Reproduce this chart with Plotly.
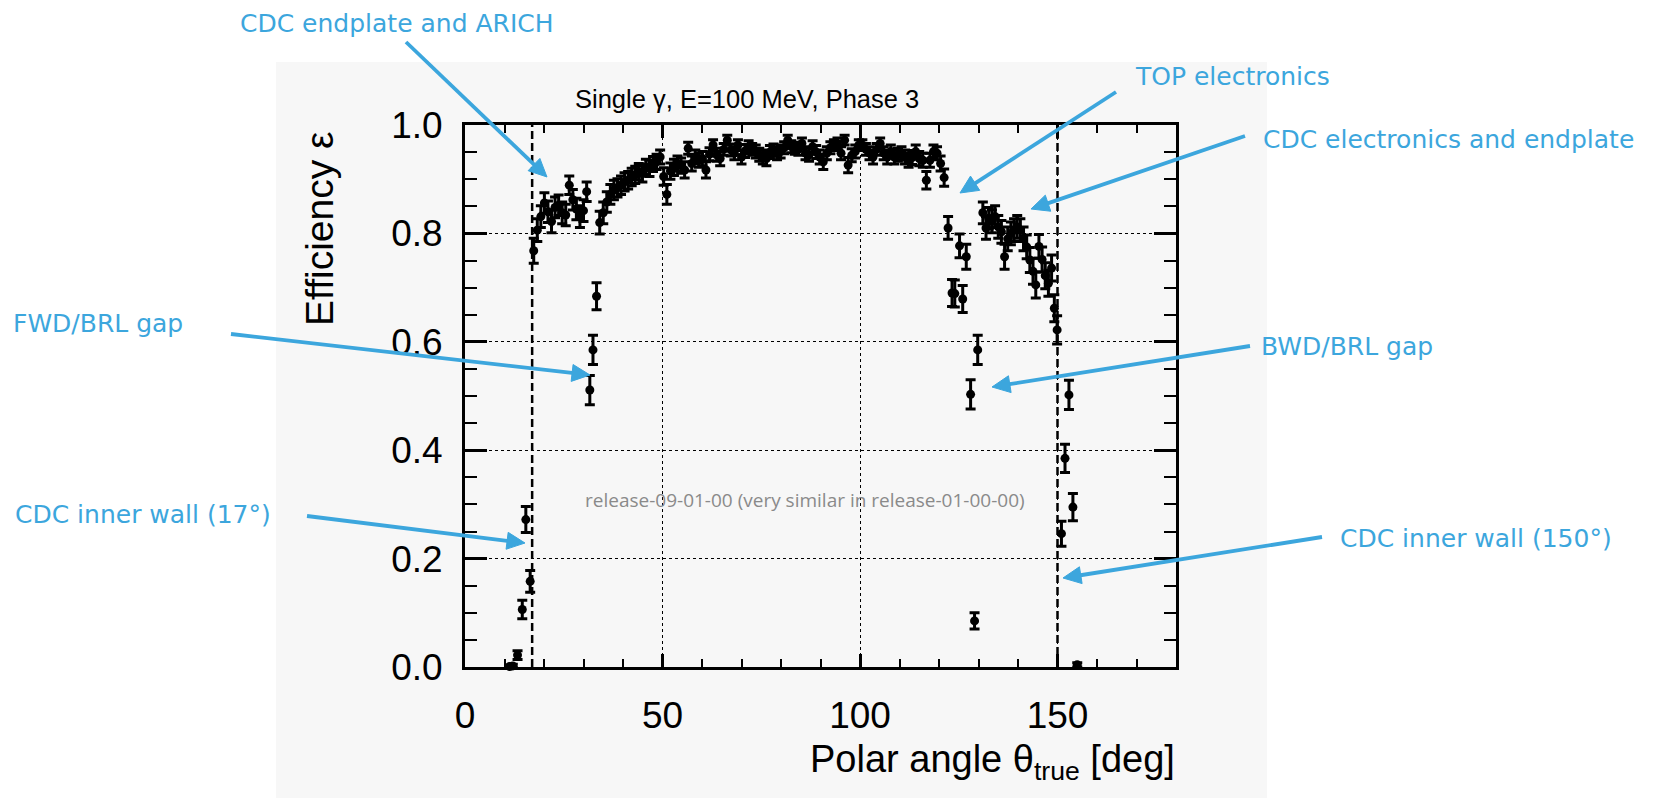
import math
import plotly.graph_objects as go

# Photon reconstruction efficiency versus true polar angle (1 bin ~ 0.9 deg)
theta_deg = [
    11.3, 12.1, 13.3, 14.5, 15.4, 16.5, 17.4, 18.3, 19.2, 20.1, 21.0, 21.9, 22.8, 23.7,
    24.6, 25.5, 26.4, 27.3, 28.2, 29.1, 30.0, 30.8, 31.6, 32.4, 33.3, 34.1, 35.0, 35.9,
    36.8, 37.7, 38.6, 39.5, 40.4, 41.3, 42.2, 43.1, 44.0, 44.9, 45.8, 46.7, 47.6, 48.5,
    49.4, 50.3, 51.1, 52.0, 52.9, 53.8, 54.7, 55.6, 56.5, 57.4, 58.3, 59.2, 60.1, 61.0,
    61.9, 62.8, 63.7, 64.6, 65.5, 66.4, 67.3, 68.2, 69.1, 70.0, 70.9, 71.8, 72.7, 73.6,
    74.5, 75.4, 76.3, 77.2, 78.1, 79.0, 79.9, 80.8, 81.7, 82.6, 83.5, 84.4, 85.3, 86.2,
    87.1, 88.0, 88.9, 89.8, 90.7, 91.6, 92.5, 93.4, 94.3, 95.2, 96.1, 97.0, 97.9, 98.8,
    99.7, 100.6, 101.5, 102.4, 103.3, 104.2, 105.1, 106.0, 106.9, 107.8, 108.7, 109.6,
    110.5, 111.4, 112.3, 113.2, 114.1, 115.0, 115.9, 116.8, 117.7, 118.6, 119.5, 120.4,
    121.3, 122.3, 123.3, 124.0, 125.2, 126.0, 126.9, 128.0, 129.0, 129.8, 131.1, 131.9,
    132.6, 133.4, 134.2, 135.0, 135.8, 136.6, 137.4, 138.2, 139.0, 139.8, 140.6, 141.4,
    142.2, 143.0, 143.8, 144.5, 145.3, 146.1, 146.9, 147.7, 148.5, 149.2, 149.9, 151.0,
    151.9, 152.9, 153.9, 155.0,
]
efficiency = [
    0.001, 0.002, 0.022, 0.106, 0.272, 0.158, 0.768, 0.806, 0.831, 0.856, 0.840, 0.822, 0.848, 0.852,
    0.838, 0.834, 0.889, 0.862, 0.845, 0.831, 0.842, 0.877, 0.511, 0.585, 0.684, 0.820, 0.838, 0.858,
    0.872, 0.880, 0.884, 0.889, 0.895, 0.898, 0.904, 0.908, 0.914, 0.910, 0.923, 0.920, 0.928, 0.932,
    0.941, 0.905, 0.872, 0.915, 0.922, 0.929, 0.925, 0.917, 0.957, 0.929, 0.941, 0.935, 0.938, 0.917,
    0.946, 0.963, 0.945, 0.938, 0.955, 0.972, 0.954, 0.948, 0.963, 0.941, 0.952, 0.960, 0.955, 0.951,
    0.945, 0.941, 0.938, 0.950, 0.954, 0.948, 0.951, 0.958, 0.972, 0.960, 0.957, 0.955, 0.966, 0.948,
    0.945, 0.960, 0.950, 0.941, 0.932, 0.948, 0.958, 0.963, 0.966, 0.948, 0.972, 0.926, 0.944, 0.951,
    0.963, 0.963, 0.955, 0.948, 0.941, 0.955, 0.966, 0.948, 0.941, 0.951, 0.941, 0.945,
    0.948, 0.941, 0.935, 0.940, 0.951, 0.938, 0.935, 0.898, 0.935, 0.951, 0.948, 0.929,
    0.903, 0.810, 0.690, 0.689, 0.777, 0.679, 0.757, 0.503, 0.085, 0.585, 0.838, 0.810,
    0.828, 0.822, 0.831, 0.812, 0.803, 0.757, 0.790, 0.800, 0.806, 0.812, 0.806, 0.790,
    0.775, 0.751, 0.730, 0.705, 0.776, 0.752, 0.722, 0.708, 0.736, 0.662, 0.622, 0.246,
    0.385, 0.502, 0.295, 0.004,
]
efficiency_err = [
    0.002, 0.003, 0.008, 0.017, 0.024, 0.020, 0.023, 0.021, 0.020, 0.019, 0.020, 0.021, 0.019, 0.019,
    0.020, 0.020, 0.017, 0.019, 0.020, 0.020, 0.020, 0.018, 0.027, 0.027, 0.025, 0.021, 0.020, 0.019,
    0.018, 0.018, 0.017, 0.017, 0.017, 0.016, 0.016, 0.016, 0.015, 0.015, 0.014, 0.015, 0.014, 0.014,
    0.013, 0.016, 0.018, 0.015, 0.015, 0.014, 0.014, 0.015, 0.011, 0.014, 0.013, 0.013, 0.013, 0.015,
    0.012, 0.010, 0.012, 0.013, 0.011, 0.009, 0.011, 0.012, 0.010, 0.013, 0.012, 0.011, 0.011, 0.012,
    0.012, 0.013, 0.013, 0.012, 0.011, 0.012, 0.012, 0.011, 0.009, 0.011, 0.011, 0.011, 0.010, 0.012,
    0.012, 0.011, 0.012, 0.013, 0.014, 0.012, 0.011, 0.010, 0.010, 0.012, 0.009, 0.014, 0.012, 0.012,
    0.010, 0.010, 0.011, 0.012, 0.013, 0.011, 0.010, 0.012, 0.013, 0.012, 0.013, 0.012,
    0.012, 0.013, 0.013, 0.013, 0.012, 0.013, 0.013, 0.016, 0.013, 0.012, 0.012, 0.014,
    0.016, 0.021, 0.025, 0.025, 0.022, 0.025, 0.023, 0.027, 0.015, 0.027, 0.020, 0.021,
    0.020, 0.021, 0.020, 0.021, 0.021, 0.023, 0.022, 0.021, 0.021, 0.021, 0.021, 0.022,
    0.022, 0.023, 0.024, 0.024, 0.022, 0.023, 0.024, 0.024, 0.024, 0.025, 0.026, 0.023,
    0.026, 0.027, 0.025, 0.004,
]

# CDC inner wall boundaries drawn as dashed verticals
cdc_wall_deg = [17, 150]

x_ticks = [0, 50, 100, 150]
y_ticks = [0.0, 0.2, 0.4, 0.6, 0.8, 1.0]

# Callouts: label, label position (px), anchor, arrow tail (px), arrow head (px)
callouts = [
    ("CDC endplate and ARICH", (397, 23), "center", (406, 42), (547, 177)),
    ("TOP electronics", (1232, 76), "center", (1116, 92), (960, 193)),
    ("CDC electronics and endplate", (1261, 140), "left", (1245, 136), (1031, 209)),
    ("FWD/BRL gap", (11, 323), "left", (231, 334), (590, 375)),
    ("BWD/BRL gap", (1259, 346), "left", (1250, 346), (992, 387)),
    ("CDC inner wall (17°)", (13, 514), "left", (307, 516), (525, 543)),
    ("CDC inner wall (150°)", (1338, 538), "left", (1322, 537), (1063, 578)),
]

W, H = 1662, 798
ML, MR, MT, MB = 465, 486, 125, 131
PW, PH = W - ML - MR, H - MT - MB

ROOT_FONT = "Liberation Sans, Arial, Helvetica, sans-serif"
NOTE_FONT = "DejaVu Sans, Verdana, sans-serif"
BLUE = "#3CA6DD"
PANEL = "#f7f7f7"
HEAD_LEN, HEAD_HALF = 18, 8.5


def px(xp, yp):
    """Figure pixel position -> paper coordinates of the plot area."""
    return (xp - ML) / PW, (H - MB - yp) / PH


def arrow_shapes(tail, head):
    """Straight blue arrow: a line plus a filled triangular head (pixel geometry)."""
    (tx, ty), (hx, hy) = tail, head
    dx, dy = hx - tx, hy - ty
    n = math.hypot(dx, dy)
    ux, uy = dx / n, dy / n
    bx, by = hx - ux * HEAD_LEN, hy - uy * HEAD_LEN
    nx, ny = -uy, ux
    p_tail = px(tx, ty)
    p_base = px(bx + ux * 2, by + uy * 2)
    tri = [px(hx, hy), px(bx + nx * HEAD_HALF, by + ny * HEAD_HALF),
           px(bx - nx * HEAD_HALF, by - ny * HEAD_HALF)]
    path = "M {:.5f},{:.5f} L {:.5f},{:.5f} L {:.5f},{:.5f} Z".format(
        tri[0][0], tri[0][1], tri[1][0], tri[1][1], tri[2][0], tri[2][1])
    return [
        dict(type="line", xref="paper", yref="paper",
             x0=p_tail[0], y0=p_tail[1], x1=p_base[0], y1=p_base[1],
             line=dict(color=BLUE, width=3.8)),
        dict(type="path", xref="paper", yref="paper", path=path,
             fillcolor=BLUE, line=dict(color=BLUE, width=1)),
    ]


fig = go.Figure()

fig.add_trace(go.Scatter(
    x=theta_deg, y=efficiency,
    mode="markers",
    marker=dict(symbol="circle", size=9, color="black"),
    error_y=dict(type="data", array=efficiency_err, visible=True,
                 color="black", thickness=3, width=5),
    cliponaxis=False,
    showlegend=False,
))

shapes = []
# light panel behind the whole graphic
x0, y0 = px(276, 798)
x1, y1 = px(1267, 62)
shapes.append(dict(type="rect", xref="paper", yref="paper", x0=x0, x1=x1, y0=y0, y1=y1,
                   fillcolor=PANEL, line=dict(width=0), layer="below"))
for xv in cdc_wall_deg:
    shapes.append(dict(type="line", xref="x", yref="y", x0=xv, x1=xv, y0=0, y1=1,
                       line=dict(color="black", width=2.5, dash="8px,4px")))

annotations = []
for label, (tx, ty), anchor, tail, head in callouts:
    shapes.extend(arrow_shapes(tail, head))
    lx, ly = px(tx, ty)
    annotations.append(dict(
        xref="paper", yref="paper", x=lx, y=ly, text=label, showarrow=False,
        xanchor=anchor, yanchor="middle",
        font=dict(family=NOTE_FONT, size=25, color=BLUE),
    ))

tx, ty = px(747, 99)
annotations.append(dict(xref="paper", yref="paper", x=tx, y=ty, showarrow=False,
                        text="Single γ, E=100 MeV, Phase 3", xanchor="center", yanchor="middle",
                        font=dict(family=ROOT_FONT, size=25.5, color="black")))
tx, ty = px(805, 500)
annotations.append(dict(xref="paper", yref="paper", x=tx, y=ty, showarrow=False,
                        text="release-09-01-00 (very similar in release-01-00-00)",
                        xanchor="center", yanchor="middle",
                        font=dict(family="Open Sans, sans-serif", size=19, color="#8a8a8a")))
tx, ty = px(1177, 762)
annotations.append(dict(xref="paper", yref="paper", x=tx, y=ty, showarrow=False,
                        text="Polar angle θ<sub>true</sub> [deg]", xanchor="right", yanchor="middle",
                        font=dict(family=ROOT_FONT, size=38, color="black")))
tx, ty = px(320, 229)
annotations.append(dict(xref="paper", yref="paper", x=tx, y=ty, showarrow=False,
                        text="Efficiency ε", textangle=-90, xanchor="center", yanchor="middle",
                        font=dict(family=ROOT_FONT, size=39, color="black")))

axis_common = dict(
    ticks="inside", tickcolor="black", tickwidth=2.5,
    showline=True, linecolor="black", linewidth=3, mirror="ticks",
    showgrid=True, gridcolor="black", gridwidth=1, griddash="3px,3px",
    zeroline=False,
    tickfont=dict(family=ROOT_FONT, size=37, color="black"),
)

fig.update_layout(
    width=W, height=H,
    margin=dict(l=ML, r=MR, t=MT, b=MB, pad=0),
    paper_bgcolor="white", plot_bgcolor=PANEL,
    shapes=shapes, annotations=annotations,
    xaxis=dict(range=[0, 180], tickvals=x_ticks, ticklen=13,
               minor=dict(dtick=10, ticks="inside", ticklen=8, tickwidth=2,
                          tickcolor="black", showgrid=False),
               ticklabelstandoff=14, **axis_common),
    yaxis=dict(range=[0, 1.0], tickvals=y_ticks, tickformat=".1f", ticklen=22,
               minor=dict(dtick=0.05, ticks="inside", ticklen=12, tickwidth=2,
                          tickcolor="black", showgrid=False),
               ticklabelstandoff=12, **axis_common),
    showlegend=False,
)

fig.write_html("out.html")
